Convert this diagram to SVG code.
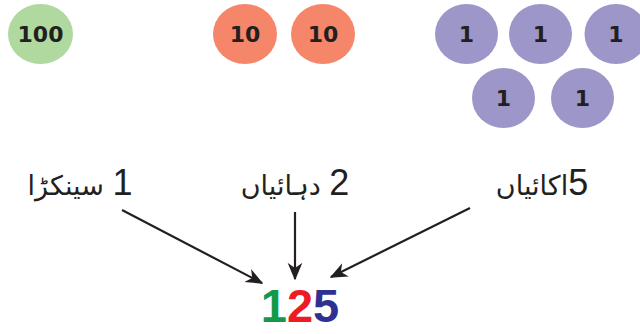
<svg xmlns="http://www.w3.org/2000/svg" width="640" height="334" viewBox="0 0 640 334">
<defs>
<style>
.g{fill:#b0d9a0}.o{fill:#f5866a}.p{fill:#9d96c9}
.ct{font-family:"DejaVu Sans","Liberation Sans",sans-serif;font-weight:bold;font-size:22px;fill:#231f20;text-anchor:middle}
.lb{font-family:"DejaVu Sans","Noto Sans",sans-serif;font-size:27px;fill:#231f20;text-anchor:middle}
.d{font-family:"Liberation Sans","DejaVu Sans",sans-serif;font-size:36px}
.big{font-family:"Liberation Sans","DejaVu Sans",sans-serif;font-weight:bold;font-size:47px}
.ar{stroke:#231f20;stroke-width:2.2;fill:none;marker-end:url(#ah)}
</style>
<marker id="ah" viewBox="0 0 12 10" refX="11" refY="5" markerWidth="8" markerHeight="7" markerUnits="strokeWidth" orient="auto">
<path d="M0,0 L12,5 L0,10 L3.5,5 Z" fill="#231f20"/>
</marker>
</defs>
<g id="hundred"><ellipse class="g" cx="40.5" cy="34" rx="32.5" ry="30"/><text class="ct" x="40.5" y="42">100</text></g>
<g id="ten1"><ellipse class="o" cx="245" cy="34" rx="32" ry="30"/><text class="ct" x="245" y="42">10</text></g>
<g id="ten2"><ellipse class="o" cx="323" cy="34" rx="32" ry="30"/><text class="ct" x="323" y="42">10</text></g>
<g id="one1"><ellipse class="p" cx="466.5" cy="34" rx="31.5" ry="30"/><text class="ct" x="466.5" y="42">1</text></g>
<g id="one2"><ellipse class="p" cx="540.5" cy="34" rx="31.5" ry="30"/><text class="ct" x="540.5" y="42">1</text></g>
<g id="one3"><ellipse class="p" cx="616" cy="34" rx="31.5" ry="30"/><text class="ct" x="616" y="42">1</text></g>
<g id="one4"><ellipse class="p" cx="503.5" cy="98" rx="31.5" ry="30"/><text class="ct" x="503.5" y="106">1</text></g>
<g id="one5"><ellipse class="p" cx="582.5" cy="98" rx="31.5" ry="30"/><text class="ct" x="582.5" y="106">1</text></g>
<g id="label-hundreds"><text class="lb" x="80" y="195" direction="rtl"><tspan class="d">1</tspan> سینکڑا</text></g>
<g id="label-tens"><text class="lb" x="295" y="195" direction="rtl"><tspan class="d">2</tspan> دہائیاں</text></g>
<g id="label-ones"><text class="lb" x="542" y="195" direction="rtl"><tspan class="d">5</tspan>اکائیاں</text></g>
<g id="connectors">
<line class="ar" x1="122" y1="210" x2="262" y2="283"/>
<line class="ar" x1="295" y1="212" x2="295" y2="279"/>
<line class="ar" x1="470" y1="208" x2="331" y2="277"/>
</g>
<g id="number"><text class="big" x="300" y="322" text-anchor="middle"><tspan fill="#129a4a">1</tspan><tspan fill="#ed1c24">2</tspan><tspan fill="#2e3192">5</tspan></text></g>
</svg>
